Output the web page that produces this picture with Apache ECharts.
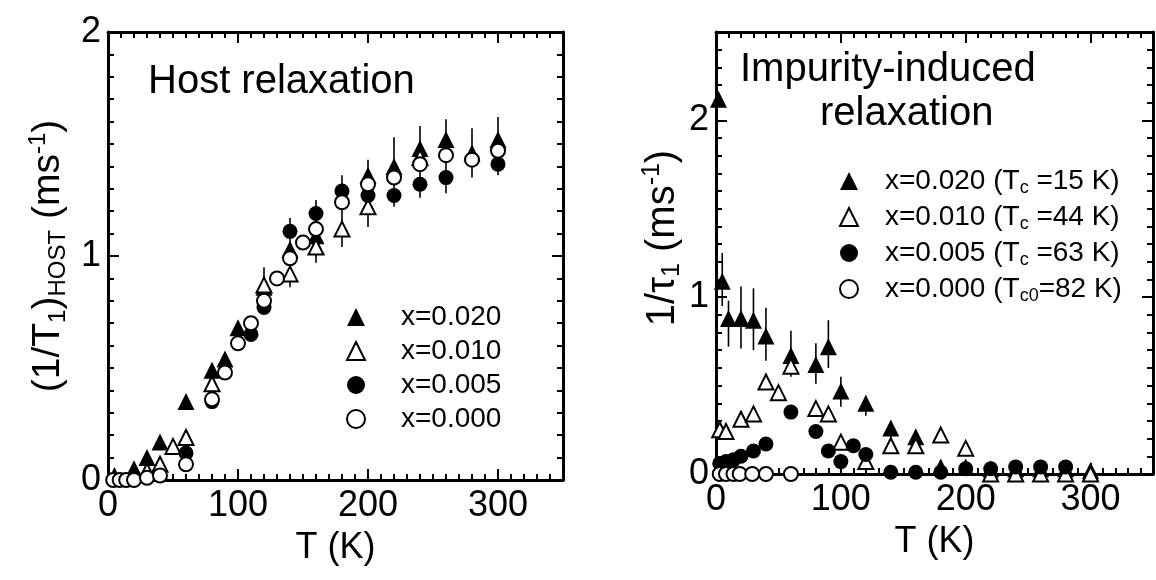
<!DOCTYPE html>
<html>
<head>
<meta charset="utf-8">
<script src="https://cdn.jsdelivr.net/npm/echarts@6/dist/echarts.min.js"></script>
<style>
html,body{margin:0;padding:0;background:#fff;}
#c{width:1156px;height:580px;}
</style>
</head>
<body>
<div id="c"></div>
<script>
// ---------- DATA ----------
// Left panel: host relaxation (1/T1)_HOST vs T
const hostNames = ['x=0.020', 'x=0.010', 'x=0.005', 'x=0.000'];
const host020 = [[5,0.02],[20,0.05],[30,0.10],[40,0.17],[60,0.35],[80,0.49],[90,0.54],[100,0.68],[120,0.86],[140,1.03],[160,1.09],[200,1.36],[220,1.40],[240,1.48],[260,1.52],[280,1.46],[300,1.52]];
const host010 = [[30,0.04],[40,0.07],[50,0.15],[60,0.19],[80,0.43],[120,0.87],[140,0.92],[160,1.04],[180,1.12],[200,1.22],[240,1.44]];
const host005 = [[60,0.12],[80,0.35],[110,0.65],[120,0.77],[140,1.11],[160,1.19],[180,1.29],[200,1.27],[220,1.27],[240,1.32],[260,1.35],[300,1.41]];
const host000 = [[4,0.0],[9,0.0],[14,0.0],[20,0.0],[30,0.01],[40,0.02],[60,0.07],[80,0.36],[90,0.48],[100,0.61],[110,0.70],[120,0.80],[130,0.90],[140,0.99],[150,1.06],[160,1.12],[180,1.24],[200,1.32],[220,1.35],[240,1.41],[260,1.45],[280,1.43],[300,1.47]];
// error bars [T, low, high]
const hostErr = [[120,0.84,0.95],[140,0.86,1.17],[160,0.97,1.25],[180,1.04,1.36],[200,1.13,1.43],[220,1.22,1.53],[240,1.26,1.58],[260,1.28,1.61],[280,1.35,1.57],[300,1.36,1.62]];

// Right panel: impurity-induced relaxation 1/tau1 vs T
const impNames = ['x=0.020', 'x=0.010', 'x=0.005', 'x=0.000'];
const impTcSub = ['c', 'c', 'c', 'c0'];
const impTcVal = ['=15 K', '=44 K', '=63 K', '=82 K'];
const imp020 = [[2,2.12],[5,1.09],[10,0.88],[20,0.88],[30,0.87],[40,0.78],[60,0.67],[80,0.62],[90,0.72],[100,0.47],[120,0.40],[140,0.26],[160,0.21],[180,0.04],[200,0.04],[220,0.03],[240,0.03],[260,0.03],[280,0.03],[300,0.02]];
const imp010 = [[3,0.25],[8,0.24],[20,0.31],[30,0.34],[40,0.52],[50,0.46],[60,0.61],[80,0.37],[90,0.34],[100,0.18],[120,0.07],[140,0.16],[160,0.16],[180,0.22],[200,0.145],[220,0.0],[240,0.0],[260,0.0],[280,0.0],[300,0.0]];
const imp005 = [[3,0.06],[8,0.07],[14,0.08],[20,0.10],[30,0.13],[40,0.17],[60,0.35],[80,0.24],[90,0.13],[100,0.07],[110,0.16],[120,0.11],[140,0.01],[160,0.01],[180,0.01],[200,0.03],[220,0.03],[240,0.04],[260,0.04],[280,0.04]];
const imp000 = [[3,0.0],[8,0.0],[14,0.0],[19,0.0],[29,0.0],[40,0.0],[60,0.0]];
const impErr = [[5,0.95,1.25],[10,0.72,0.98],[20,0.71,1.06],[30,0.70,1.05],[40,0.64,0.94],[60,0.55,0.81],[80,0.51,0.74],[90,0.60,0.87],[100,0.38,0.55],[120,0.33,0.44],[140,0.20,0.30],[160,0.17,0.25]];

// Axis settings
const xTickMajor = 100, xTickMinor = 10, xMin = 0, xMax = 350;
const hostYMax = 2, impYMax = 2.5;

// ---------- CHART ----------
const FONT = "'Liberation Sans', Arial, Helvetica, sans-serif";
const chart = echarts.init(document.getElementById('c'), null, {renderer: 'canvas'});

function xAx(grid, pos, interval, major, labels, name) {
  return {
    type: 'value', gridIndex: grid, position: pos, min: xMin, max: xMax, interval: interval,
    axisLine: {show: major, onZero: false, lineStyle: {color: '#000', width: 3}},
    axisTick: {show: true, inside: true, length: major ? 11 : 6, lineStyle: {color: '#000', width: 2}},
    axisLabel: {show: labels, showMaxLabel: false, color: '#000', fontSize: 36, fontFamily: FONT, margin: 8},
    splitLine: {show: false},
    name: name || '', nameLocation: 'middle', nameGap: 50,
    nameTextStyle: {color: '#000', fontSize: 36, fontFamily: FONT}
  };
}
function yAx(grid, pos, max, interval, major, labels, name, nameGap, fs, pad) {
  fs = fs || 34;
  const sub = Math.round(fs * 0.62), off = Math.round(fs * 0.5);
  return {
    type: 'value', gridIndex: grid, position: pos, min: 0, max: max, interval: interval,
    axisLine: {show: major, onZero: false, lineStyle: {color: '#000', width: 3}},
    axisTick: {show: true, inside: true, length: major ? 11 : 6, lineStyle: {color: '#000', width: 2}},
    axisLabel: {show: labels, showMaxLabel: max === 2, color: '#000', fontSize: 36, fontFamily: FONT, margin: 7},
    splitLine: {show: false},
    name: name || '', nameLocation: 'middle', nameGap: nameGap || 40, nameRotate: 90,
    nameTextStyle: {
      color: '#000', fontSize: fs, fontFamily: FONT, padding: pad || 0,
      rich: {
        n: {fontSize: fs, fontFamily: FONT, color: '#000'},
        sub: {fontSize: sub, fontFamily: FONT, color: '#000', padding: [off, 0, 0, 0]},
        sup: {fontSize: sub, fontFamily: FONT, color: '#000', padding: [0, 0, off, 0]}
      }
    }
  };
}

function errSeries(data, xi, yi) {
  return {
    type: 'custom', xAxisIndex: xi, yAxisIndex: yi, data: data, z: 1, silent: true,
    encode: {x: 0, y: [1, 2]},
    renderItem: function (params, api) {
      const p1 = api.coord([api.value(0), api.value(1)]);
      const p2 = api.coord([api.value(0), api.value(2)]);
      return {type: 'line', shape: {x1: p1[0], y1: p1[1], x2: p2[0], y2: p2[1]},
              style: {stroke: '#000', lineWidth: 1.6}};
    }
  };
}

const styles = [
  {symbol: 'triangle', size: 17, item: {color: '#000', borderColor: '#000', borderWidth: 0, opacity: 1}},
  {symbol: 'triangle', size: 15, item: {color: '#fff', borderColor: '#000', borderWidth: 2, opacity: 1}},
  {symbol: 'circle', size: 15, item: {color: '#000', borderColor: '#000', borderWidth: 0, opacity: 1}},
  {symbol: 'circle', size: 14, item: {color: '#fff', borderColor: '#000', borderWidth: 2, opacity: 1}}
];

function scat(name, data, k, xi, yi) {
  return {
    type: 'scatter', name: name, data: data, xAxisIndex: xi, yAxisIndex: yi,
    symbol: styles[k].symbol, symbolSize: styles[k].size, itemStyle: styles[k].item,
    clip: false, z: 2 + k, silent: true
  };
}

const hostSets = [host020, host010, host005, host000];
const impSets = [imp020, imp010, imp005, imp000];
const impSeriesNames = impNames.map((n, i) => n + ' (T' + impTcSub[i] + ' ' + impTcVal[i] + ')');

const series = [errSeries(hostErr, 0, 0), errSeries(impErr, 4, 4)];
hostSets.forEach((d, i) => series.push(scat(hostNames[i], d, i, 0, 0)));
impSets.forEach((d, i) => series.push(scat(impSeriesNames[i], d, i, 4, 4)));

const option = {
  backgroundColor: '#fff',
  animation: false,
  textStyle: {fontFamily: FONT},
  grid: [
    {left: 108, top: 32, width: 455, height: 448, show: false},
    {left: 716, top: 32, width: 437, height: 442, show: false}
  ],
  xAxis: [
    xAx(0, 'bottom', xTickMajor, true, true, 'T (K)'),
    xAx(0, 'bottom', xTickMinor, false, false),
    xAx(0, 'top', xTickMajor, true, false),
    xAx(0, 'top', xTickMinor, false, false),
    xAx(1, 'bottom', xTickMajor, true, true, 'T (K)'),
    xAx(1, 'bottom', xTickMinor, false, false),
    xAx(1, 'top', xTickMajor, true, false),
    xAx(1, 'top', xTickMinor, false, false)
  ],
  yAxis: [
    yAx(0, 'left', hostYMax, 1, true, true, '{n|(1/T}{sub|1}{n|)}{sub|HOST}{n| (ms}{sup|-1}{n|)}', 38, 39, 0),
    yAx(0, 'left', hostYMax, 0.1, false, false),
    yAx(0, 'right', hostYMax, 1, true, false),
    yAx(0, 'right', hostYMax, 0.1, false, false),
    yAx(1, 'left', impYMax, 1, true, true, '{n|1/τ}{sub|1}{n| (ms}{sup|-1}{n|)}', 30, 40, [0, 0, 0, 30]),
    yAx(1, 'left', impYMax, 0.1, false, false),
    yAx(1, 'right', impYMax, 1, true, false),
    yAx(1, 'right', impYMax, 0.1, false, false)
  ],
  legend: [
    {
      data: hostNames, orient: 'vertical', left: 346, top: 300, padding: 0, itemGap: 0,
      itemWidth: 18, itemHeight: 18, selectedMode: false,
      textStyle: {color: '#000', fontSize: 28, fontFamily: FONT, lineHeight: 34, padding: [0, 0, 0, 31]}
    },
    {
      data: impSeriesNames, orient: 'vertical', left: 839, top: 163, padding: 0, itemGap: 0,
      itemWidth: 18, itemHeight: 18, selectedMode: false,
      formatter: function (name) {
        const i = impSeriesNames.indexOf(name);
        return '{t|' + impNames[i] + ' (T}{s|' + impTcSub[i] + '}{t|' + (impTcSub[i] === 'c' ? ' ' : '') + impTcVal[i] + ')}';
      },
      textStyle: {
        color: '#000', fontSize: 28, fontFamily: FONT, lineHeight: 36, padding: [0, 0, 0, 22],
        rich: {
          t: {fontSize: 28, fontFamily: FONT, color: '#000'},
          s: {fontSize: 18, fontFamily: FONT, color: '#000', padding: [14, 0, 0, 0]}
        }
      }
    }
  ],
  graphic: [
    {type: 'text', left: 148, top: 62, style: {text: 'Host relaxation', font: '40px ' + FONT, fill: '#000'}},
    {type: 'text', left: 740, top: 50, style: {text: 'Impurity-induced', font: '40px ' + FONT, fill: '#000'}},
    {type: 'text', left: 820, top: 94, style: {text: 'relaxation', font: '40px ' + FONT, fill: '#000'}}
  ],
  series: series
};
chart.setOption(option);
</script>
</body>
</html>
